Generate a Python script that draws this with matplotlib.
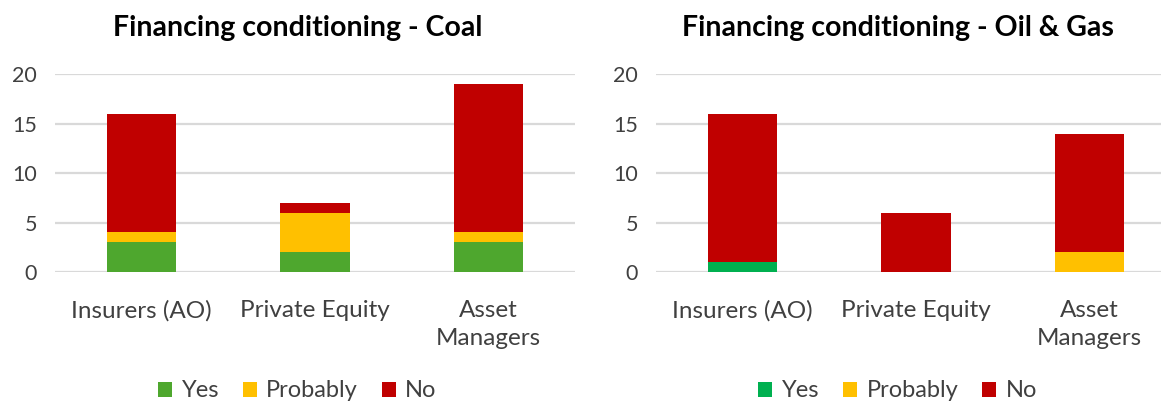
import numpy as np
import matplotlib.pyplot as plt

plt.rcParams['font.family'] = ['Lato', 'DejaVu Sans']

categories = ["Insurers (AO)", "Private Equity", "Asset\nManagers"]
series = ["Yes", "Probably", "No"]

coal_yes = [3, 2, 3]
coal_probably = [1, 4, 1]
coal_no = [12, 1, 15]

oil_yes = [1, 0, 0]
oil_probably = [0, 0, 2]
oil_no = [15, 6, 12]

red = "#C00000"
yellow = "#FFC000"
coal_green = "#4EA72E"
oil_green = "#00B050"
grid_col = "#D9D9D9"
text_col = "#404040"


def draw(ax, yes, probably, no, green, title, title_x):
    x = np.arange(len(categories))
    w = 0.4
    yes = np.array(yes)
    probably = np.array(probably)
    no = np.array(no)
    ax.bar(x, yes, w, color=green, label="Yes", zorder=3)
    ax.bar(x, probably, w, bottom=yes, color=yellow, label="Probably", zorder=3)
    ax.bar(x, no, w, bottom=yes + probably, color=red, label="No", zorder=3)
    ax.set_xlim(-0.5, 2.5)
    ax.set_ylim(0, 20)
    ax.set_yticks([0, 5, 10, 15, 20])
    ax.set_xticks(x)
    ax.set_xticklabels(categories, fontsize=17.5, color=text_col, linespacing=1.4)
    ax.tick_params(axis='y', labelsize=15.5, labelcolor=text_col, length=0, pad=13)
    ax.tick_params(axis='x', length=0, pad=20)
    ax.yaxis.grid(True, color=grid_col, linewidth=1.6, zorder=0)
    ax.set_axisbelow(True)
    for s in ax.spines.values():
        s.set_visible(False)
    ax.figure.text(title_x, 0.93, title, ha='center', va='center',
                   fontsize=20.5, fontweight='bold', color='black')
    ax.legend(loc='center', bbox_to_anchor=(title_x, 0.03),
              bbox_transform=ax.figure.transFigure, ncol=3, frameon=False,
              fontsize=17, handlelength=0.6, handleheight=0.6,
              handletextpad=0.4, columnspacing=1.0, labelcolor=text_col,
              borderpad=0)


fig = plt.figure(figsize=(11.61, 4.03), dpi=100)
ax1 = fig.add_axes([0.0474, 0.325, 0.448, 0.491])
ax2 = fig.add_axes([0.565, 0.325, 0.448, 0.491])

draw(ax1, coal_yes, coal_probably, coal_no, coal_green,
     "Financing conditioning - Coal", 0.256)
draw(ax2, oil_yes, oil_probably, oil_no, oil_green,
     "Financing conditioning - Oil & Gas", 0.773)

fig.savefig("out.png", dpi=100)
